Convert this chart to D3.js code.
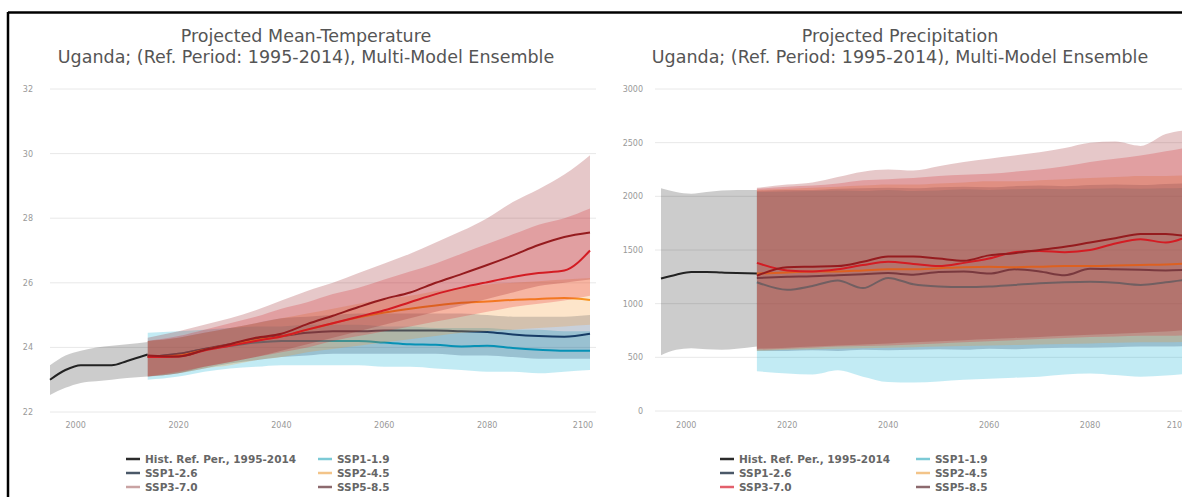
<!DOCTYPE html>
<html><head><meta charset="utf-8">
<script src="https://cdn.jsdelivr.net/npm/d3@7"></script>
<style>
html,body{margin:0;padding:0;background:#fff;}
svg{display:block;font-family:"DejaVu Sans",sans-serif;}
</style></head>
<body><svg id="c" width="1182" height="497"></svg>
<script>
// ---------- DATA ----------
const histYears = [1995, 1998, 2001, 2004, 2007, 2010, 2014];
const futYears  = [2014, 2020, 2025, 2030, 2035, 2040, 2045, 2050, 2055, 2060, 2065, 2070, 2075, 2080, 2085, 2090, 2095, 2100];
const xTicks = [2000, 2020, 2040, 2060, 2080, 2100];
const tasTicks = [22, 24, 26, 28, 30, 32];
const prTicks = [0, 500, 1000, 1500, 2000, 2500, 3000];
const scenarioNames = ["SSP1-1.9", "SSP1-2.6", "SSP2-4.5", "SSP3-7.0", "SSP5-8.5"];
const scenarioColors = ["#00ADCF", "#173C66", "#F79420", "#E71D25", "#951B1E"];
const histName = "Hist. Ref. Per., 1995-2014";

// Temperature (°C)
const tasHistMed  = [23.0, 23.3, 23.45, 23.45, 23.45, 23.58, 23.78];
const tasHistLow  = [22.53, 22.75, 22.9, 22.95, 23.0, 23.05, 23.1];
const tasHistHigh = [23.45, 23.75, 23.9, 24.0, 24.05, 24.1, 24.17];

const tas119Med  = [23.7,23.8,23.95,24.05,24.15,24.2,24.2,24.2,24.2,24.15,24.1,24.08,24.03,24.05,23.98,23.93,23.9,23.9];
const tas119Low  = [23.0,23.1,23.25,23.35,23.4,23.45,23.45,23.45,23.45,23.4,23.4,23.35,23.3,23.25,23.25,23.2,23.25,23.3];
const tas119High = [24.45,24.5,24.55,24.6,24.65,24.65,24.7,24.7,24.7,24.65,24.65,24.6,24.6,24.6,24.55,24.55,24.5,24.5];

const tas126Med  = [23.7,23.8,23.95,24.1,24.25,24.35,24.45,24.5,24.5,24.52,24.52,24.52,24.5,24.48,24.4,24.35,24.33,24.42];
const tas126Low  = [23.1,23.2,23.35,23.5,23.6,23.7,23.75,23.8,23.8,23.8,23.8,23.8,23.75,23.75,23.7,23.65,23.65,23.65];
const tas126High = [24.2,24.3,24.45,24.6,24.75,24.9,24.95,25.0,25.05,25.05,25.05,25.05,25.05,25.0,24.95,24.95,24.95,25.0];

const tas245Med  = [23.7,23.75,23.92,24.08,24.22,24.34,24.55,24.75,24.93,25.08,25.2,25.3,25.38,25.42,25.47,25.5,25.53,25.47];
const tas245Low  = [23.1,23.2,23.35,23.45,23.6,23.7,23.85,23.95,24.05,24.15,24.25,24.35,24.45,24.5,24.55,24.6,24.65,24.7];
const tas245High = [24.2,24.3,24.45,24.6,24.75,24.9,25.05,25.2,25.35,25.5,25.6,25.75,25.85,25.95,26.0,26.05,26.1,26.15];

const tas370Med  = [23.7,23.72,23.9,24.05,24.2,24.34,24.55,24.75,24.95,25.15,25.4,25.65,25.85,26.02,26.18,26.3,26.38,27.0];
const tas370Low  = [23.1,23.25,23.4,23.55,23.7,23.85,24.0,24.2,24.35,24.5,24.65,24.8,24.95,25.1,25.25,25.35,25.45,25.6];
const tas370High = [24.2,24.35,24.55,24.75,24.95,25.2,25.4,25.65,25.85,26.1,26.35,26.6,26.9,27.2,27.5,27.8,28.0,28.3];

const tas585Med  = [23.75,23.72,23.92,24.1,24.3,24.42,24.72,24.98,25.25,25.5,25.7,26.0,26.27,26.55,26.85,27.17,27.42,27.56];
const tas585Low  = [23.1,23.2,23.4,23.55,23.7,23.9,24.1,24.3,24.5,24.7,24.9,25.1,25.3,25.5,25.7,25.9,26.0,26.1];
const tas585High = [24.3,24.5,24.7,24.9,25.15,25.45,25.75,26.0,26.3,26.6,26.9,27.25,27.6,28.0,28.5,28.9,29.35,29.95];

// Precipitation (mm)
const prHistMed  = [1235, 1270, 1295, 1295, 1290, 1285, 1280];
const prHistLow  = [520, 570, 585, 575, 570, 580, 600];
const prHistHigh = [2075, 2040, 2025, 2040, 2055, 2060, 2060];

const pr119Med  = [1200,1130,1165,1215,1145,1240,1180,1160,1155,1160,1175,1190,1200,1205,1195,1175,1200,1230];
const pr119Low  = [370,350,340,380,320,270,265,275,290,300,310,320,340,350,335,320,330,350];
const pr119High = [2040,2045,2050,2055,2050,2060,2050,2055,2065,2060,2065,2070,2065,2070,2075,2070,2075,2080];

const pr126Med  = [1240,1250,1255,1265,1275,1285,1270,1295,1300,1280,1320,1300,1265,1325,1320,1315,1310,1315];
const pr126Low  = [560,560,565,560,570,565,570,575,570,580,575,585,590,590,595,600,600,605];
const pr126High = [2050,2060,2060,2070,2075,2080,2075,2085,2090,2085,2095,2100,2095,2105,2110,2105,2115,2120];

const pr245Med  = [1280,1290,1300,1300,1310,1320,1320,1330,1340,1345,1340,1345,1350,1350,1355,1360,1365,1375];
const pr245Low  = [560,570,575,580,585,590,595,600,605,610,615,620,625,630,635,640,640,645];
const pr245High = [2060,2070,2080,2090,2100,2110,2110,2120,2130,2140,2140,2150,2160,2170,2180,2190,2190,2200];

const pr370Med  = [1380,1310,1300,1320,1360,1390,1370,1350,1380,1420,1480,1490,1480,1500,1560,1600,1570,1640];
const pr370Low  = [570,580,590,600,605,610,620,630,640,650,660,670,680,690,695,700,700,705];
const pr370High = [2070,2090,2100,2120,2150,2160,2170,2190,2200,2210,2230,2250,2280,2320,2350,2380,2420,2460];

const pr585Med  = [1260,1340,1345,1350,1390,1440,1440,1420,1400,1450,1470,1500,1530,1570,1610,1650,1650,1620];
const pr585Low  = [580,590,600,610,620,630,640,650,660,670,680,690,700,710,720,730,740,760];
const pr585High = [2080,2110,2130,2180,2230,2250,2240,2280,2320,2350,2380,2410,2450,2500,2510,2470,2580,2620];

// legend swatch colours (as shown in each panel's legend)
const legendColorsLeft  = ["#2b2b2b", "#7ccad6", "#4a5868", "#f3c489", "#c9a3a3", "#8c6a6e"];
const legendColorsRight = ["#2b2b2b", "#7ccad6", "#4a5868", "#f3c489", "#e3606c", "#8c6a6e"];

// ---------- BUILD ----------
const svg = d3.select("#c");
const zip = (ys, lo, hi, md) => ys.map((y, i) => ({year: y, low: lo[i], high: hi[i], med: md[i]}));

const panels = [
  {
    title: ["Projected Mean-Temperature", "Uganda; (Ref. Period: 1995-2014), Multi-Model Ensemble"],
    cx: 306, xr: [50, 590], yr: [412, 89], yDomain: [22, 32], ticks: tasTicks, tickX: 33, gridX0: 50, gridX1: 596,
    labelMax: 583,
    hist: zip(histYears, tasHistLow, tasHistHigh, tasHistMed),
    scen: [zip(futYears, tas119Low, tas119High, tas119Med), zip(futYears, tas126Low, tas126High, tas126Med),
           zip(futYears, tas245Low, tas245High, tas245Med), zip(futYears, tas370Low, tas370High, tas370Med),
           zip(futYears, tas585Low, tas585High, tas585Med)],
    legendX: 126, legend2X: 318, legendColors: legendColorsLeft
  },
  {
    title: ["Projected Precipitation", "Uganda; (Ref. Period: 1995-2014), Multi-Model Ensemble"],
    cx: 900, xr: [661, 1191], yr: [411, 89], yDomain: [0, 3000], ticks: prTicks, tickX: 643, gridX0: 655, gridX1: 1182,
    labelMax: 1177,
    hist: zip(histYears, prHistLow, prHistHigh, prHistMed),
    scen: [zip(futYears, pr119Low, pr119High, pr119Med), zip(futYears, pr126Low, pr126High, pr126Med),
           zip(futYears, pr245Low, pr245High, pr245Med), zip(futYears, pr370Low, pr370High, pr370Med),
           zip(futYears, pr585Low, pr585High, pr585Med)],
    legendX: 720, legend2X: 916, legendColors: legendColorsRight
  }
];

panels.forEach(p => {
  const x = d3.scaleLinear().domain([1995, 2100]).range(p.xr);
  const y = d3.scaleLinear().domain(p.yDomain).range(p.yr);
  const g = svg.append("g");

  // title
  p.title.forEach((t, i) => g.append("text").attr("x", p.cx).attr("y", 42 + i * 20.5)
    .attr("text-anchor", "middle").attr("font-size", 17.5).attr("fill", "#555").text(t));

  // grid + y ticks
  p.ticks.forEach(v => {
    g.append("line").attr("x1", p.gridX0).attr("x2", p.gridX1).attr("y1", y(v)).attr("y2", y(v))
      .attr("stroke", "#e8e8e8").attr("stroke-width", 1);
    g.append("text").attr("x", p.tickX).attr("y", y(v) + 3).attr("text-anchor", "end")
      .attr("font-size", 8).attr("fill", "#999").text(v);
  });
  // x ticks (last label justified inside the chart, as in the original)
  xTicks.forEach(v => g.append("text").attr("x", Math.min(x(v), p.labelMax)).attr("y", 428).attr("text-anchor", "middle")
    .attr("font-size", 8).attr("fill", "#999").text(v));

  const area = d3.area().x(d => x(d.year)).y0(d => y(d.low)).y1(d => y(d.high)).curve(d3.curveMonotoneX);
  const line = d3.line().x(d => x(d.year)).y(d => y(d.med)).curve(d3.curveMonotoneX);

  const plot = g.append("g");
  plot.append("path").datum(p.hist).attr("d", area).attr("fill", "#000").attr("fill-opacity", 0.2);
  plot.append("path").datum(p.hist).attr("d", line).attr("fill", "none").attr("stroke", "#222").attr("stroke-width", 2);
  p.scen.forEach((s, i) => {
    plot.append("path").datum(s).attr("d", area).attr("fill", scenarioColors[i]).attr("fill-opacity", 0.24);
    plot.append("path").datum(s).attr("d", line).attr("fill", "none").attr("stroke", scenarioColors[i]).attr("stroke-width", 2);
  });

  // legend
  const items = [histName].concat(scenarioNames);
  const colOf = [0, 1, 0, 1, 0, 1];
  const rowOf = [0, 0, 1, 1, 2, 2];
  items.forEach((name, i) => {
    const lx = colOf[i] === 0 ? p.legendX : p.legend2X;
    const ly = 459 + rowOf[i] * 14;
    g.append("line").attr("x1", lx).attr("x2", lx + 14).attr("y1", ly).attr("y2", ly)
      .attr("stroke", p.legendColors[i]).attr("stroke-width", 2.5);
    g.append("text").attr("x", lx + 19).attr("y", ly + 4).attr("font-size", 10.5).attr("font-weight", "bold")
      .attr("fill", "#666").text(name);
  });
});

// frame lines
svg.append("line").attr("x1", 8).attr("x2", 1182).attr("y1", 12.5).attr("y2", 12.5).attr("stroke", "#000").attr("stroke-width", 2.5);
svg.append("line").attr("x1", 8).attr("x2", 8).attr("y1", 12).attr("y2", 497).attr("stroke", "#000").attr("stroke-width", 2.5);
</script></body></html>
